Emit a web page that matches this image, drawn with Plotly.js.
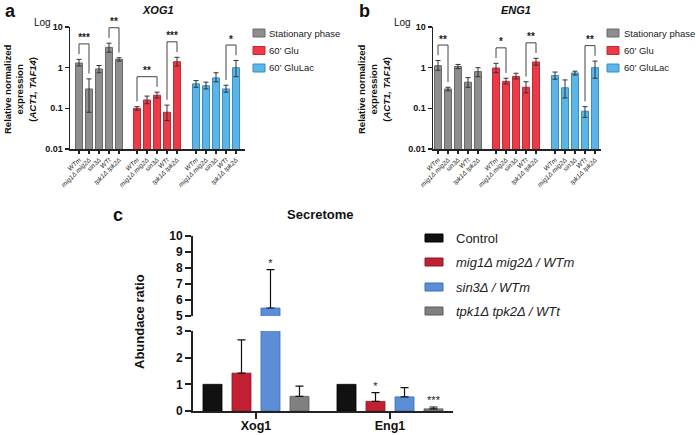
<!DOCTYPE html>
<html>
<head>
<meta charset="utf-8">
<script src="https://cdn.plot.ly/plotly-3.0.1.min.js"></script>
<style>html,body{margin:0;padding:0;background:#fff;}#chart{width:696px;height:435px;}</style>
</head>
<body>
<div id="chart"></div>
<script>
// ---------- data ----------
const genotypes = ['WTm', 'mig1Δ mig2Δ', 'sin3Δ', 'WTt', 'tpk1Δ tpk2Δ'];
const conditions = ['Stationary phase', '60’ Glu', '60’ GluLac'];

// XOG1 (panel a)
const xogStat    = [1.3, 0.3, 0.93, 3.15, 1.6];
const xogStatLo  = [1.1, 0.08, 0.75, 2.4, 1.45];
const xogStatHi  = [1.6, 0.53, 1.13, 4.0, 1.75];
const xogGlu     = [0.1, 0.16, 0.21, 0.08, 1.4];
const xogGluLo   = [0.09, 0.13, 0.18, 0.05, 1.1];
const xogGluHi   = [0.11, 0.2, 0.25, 0.12, 1.8];
const xogLac     = [0.4, 0.36, 0.56, 0.3, 1.0];
const xogLacLo   = [0.33, 0.3, 0.45, 0.25, 0.6];
const xogLacHi   = [0.48, 0.44, 0.75, 0.37, 1.5];
const xogSig = [[0, 0, 1, '***'], [0, 3, 4, '**'], [1, 0, 2, '**'], [1, 3, 4, '***'], [2, 3, 4, '*']];

// ENG1 (panel b)
const engStat    = [1.12, 0.3, 1.07, 0.44, 0.8];
const engStatLo  = [0.86, 0.27, 0.95, 0.33, 0.6];
const engStatHi  = [1.5, 0.33, 1.2, 0.57, 1.0];
const engGlu     = [0.98, 0.46, 0.61, 0.33, 1.38];
const engGluLo   = [0.75, 0.4, 0.53, 0.24, 1.15];
const engGluHi   = [1.28, 0.55, 0.73, 0.45, 1.7];
const engLac     = [0.64, 0.32, 0.74, 0.085, 1.0];
const engLacLo   = [0.52, 0.18, 0.66, 0.06, 0.55];
const engLacHi   = [0.78, 0.5, 0.82, 0.11, 1.45];
const engSig = [[0, 0, 1, '**'], [1, 0, 1, '*'], [1, 3, 4, '**'], [2, 3, 4, '**']];

// Secretome (panel c)
const secCats = ['Xog1', 'Eng1'];
const secSeries = ['Control', 'mig1Δ mig2Δ / WTm', 'sin3Δ / WTm', 'tpk1Δ tpk2Δ / WTt'];
const secControl = [1.0, 1.0];
const secMig     = [1.42, 0.36];
const secSin3    = [5.5, 0.53];
const secTpk     = [0.55, 0.08];
const secControlErr = [0, 0];
const secMigErr     = [1.25, 0.33];
const secSin3Err    = [2.4, 0.35];
const secTpkErr     = [0.38, 0.07];
const secControlSig = ['', ''];
const secMigSig     = ['', '*'];
const secSin3Sig    = ['*', ''];
const secTpkSig     = ['', '***'];

// ---------- styling ----------
const W = 696, H = 435;
const px = v => v / W;
const py = v => 1 - v / H;
const FONT = 'Liberation Sans, Arial, sans-serif';
const condFill = ['#8e8e8e', '#ec3b47', '#5bb5e6'];
const condLine = ['#6a6a6a', '#c02a35', '#3a8cc2'];
const secFill = ['#111111', '#c21f33', '#5b8ed6', '#808080'];
const secLine = ['#000000', '#8a1a26', '#3f6fb0', '#5a5a5a'];
const groupOffset = [0, 5.8, 11.7];

const traces = [];
const shapes = [];
const annotations = [];

function buildPanel(xa, ya, means, los, his, sig) {
  for (let c = 0; c < 3; c++) {
    const xs = genotypes.map((g, i) => groupOffset[c] + i);
    traces.push({
      type: 'bar', x: xs, y: means[c], xaxis: xa, yaxis: ya, width: 0.7,
      marker: {color: condFill[c], line: {color: condLine[c], width: 1}},
      error_y: {type: 'data', symmetric: false,
        array: means[c].map((m, i) => his[c][i] - m),
        arrayminus: means[c].map((m, i) => m - los[c][i]),
        color: '#333', thickness: 1, width: 2.5},
      showlegend: false, hoverinfo: 'skip'
    });
  }
  sig.forEach(([c, i, j, lab]) => {
    const hi = Math.max(his[c][i], his[c][j]);
    const top = hi * 2.4;
    const xi = groupOffset[c] + i, xj = groupOffset[c] + j;
    traces.push({
      type: 'scatter', mode: 'lines', xaxis: xa, yaxis: ya,
      x: [xi, xi, xj, xj], y: [his[c][i] * 1.35, top, top, his[c][j] * 1.35],
      line: {color: '#444', width: 1}, showlegend: false, hoverinfo: 'skip', cliponaxis: false
    });
    traces.push({
      type: 'scatter', mode: 'text', xaxis: xa, yaxis: ya,
      x: [(xi + xj) / 2], y: [top], text: [lab], textposition: 'top center',
      textfont: {size: 10, color: '#222', family: FONT, weight: 'bold'},
      showlegend: false, hoverinfo: 'skip', cliponaxis: false
    });
  });
}

buildPanel('x', 'y', [xogStat, xogGlu, xogLac], [xogStatLo, xogGluLo, xogLacLo], [xogStatHi, xogGluHi, xogLacHi], xogSig);
buildPanel('x2', 'y2', [engStat, engGlu, engLac], [engStatLo, engGluLo, engLacLo], [engStatHi, engGluHi, engLacHi], engSig);

// panel c
const secVals = [secControl, secMig, secSin3, secTpk];
const secErrs = [secControlErr, secMigErr, secSin3Err, secTpkErr];
const secSigs = [secControlSig, secMigSig, secSin3Sig, secTpkSig];
const slot = 0.2164, barW = 0.142;
secVals.forEach((vals, s) => {
  const xs = secCats.map((c, k) => k + (s - 1.5) * slot);
  ['y3', 'y4'].forEach(ya => {
    traces.push({
      type: 'bar', x: xs, y: vals, xaxis: 'x3', yaxis: ya, width: barW,
      marker: {color: secFill[s], line: {color: secLine[s], width: 0.8}},
      error_y: {type: 'data', symmetric: false, array: secErrs[s], arrayminus: secErrs[s].map(() => 0),
        color: '#111', thickness: 1.2, width: 4, visible: secErrs[s].some(e => e > 0)},
      showlegend: false, hoverinfo: 'skip'
    });
  });
  secSigs[s].forEach((lab, k) => {
    if (!lab) return;
    const top = vals[k] + secErrs[s][k];
    traces.push({
      type: 'scatter', mode: 'text', xaxis: 'x3', yaxis: top > 3 ? 'y4' : 'y3',
      x: [xs[k]], y: [top], text: [lab], textposition: 'top center',
      textfont: {size: 11, color: '#222', family: FONT},
      showlegend: false, hoverinfo: 'skip', cliponaxis: false
    });
  });
});

// ---------- legends (keys built from series names/colours) ----------
function legend(names, fills, lines, x0, sw, txtX, ys, size, italicFrom) {
  names.forEach((n, i) => {
    shapes.push({type: 'rect', xref: 'paper', yref: 'paper',
      x0: px(x0), x1: px(x0 + sw), y0: py(ys[i] + 4), y1: py(ys[i] - 4),
      fillcolor: fills[i], line: {color: lines[i], width: 1}});
    annotations.push({xref: 'paper', yref: 'paper', x: px(txtX), y: py(ys[i]),
      xanchor: 'left', yanchor: 'middle', showarrow: false,
      text: i >= italicFrom ? '<i>' + n + '</i>' : n,
      font: {size: size, color: '#222', family: FONT}});
  });
}
legend(conditions, condFill, condLine, 253, 12, 267, [33, 50.5, 68], 9.5, 99);
legend(conditions, condFill, condLine, 607, 12, 622, [33, 50.5, 68], 9.5, 99);
legend(secSeries, secFill, secLine, 425, 18, 454, [238, 262, 287, 311], 13, 1);

// ---------- text ----------
function ann(text, x, y, size, extra) {
  annotations.push(Object.assign({xref: 'paper', yref: 'paper', x: px(x), y: py(y),
    xanchor: 'center', yanchor: 'middle', showarrow: false, text: text,
    font: {size: size, color: '#111', family: FONT}}, extra || {}));
}
ann('<b>a</b>', 10, 11, 18);
ann('<b>b</b>', 364, 11, 18);
ann('<b>c</b>', 118, 215, 18);
ann('<b><i>XOG1</i></b>', 158, 10, 11);
ann('<b><i>ENG1</i></b>', 516, 10, 11);
ann('<b>Secretome</b>', 320, 215, 13);
ann('Log', 42, 22, 10);
ann('Log', 402, 22, 10);
ann('<b>Relative normalized<br>expression<br>(<i>ACT1, TAF14</i>)</b>', 20, 90, 9.5, {textangle: -90});
ann('<b>Relative normalized<br>expression<br>(<i>ACT1, TAF14</i>)</b>', 374, 90, 9.5, {textangle: -90});
ann('<b>Abundace ratio</b>', 139, 322, 13, {textangle: -90});

// ---------- axes ----------
const tickPos = [];
const tickTxt = [];
for (let c = 0; c < 3; c++) genotypes.forEach((g, i) => { tickPos.push(groupOffset[c] + i); tickTxt.push(g); });

const baseAx = {showline: true, linecolor: '#222', linewidth: 1.5, ticks: 'outside', tickcolor: '#222',
  tickwidth: 1.5, showgrid: false, zeroline: false, fixedrange: true};
const xCat = Object.assign({}, baseAx, {tickvals: tickPos, ticktext: tickTxt, tickangle: -45, ticklen: 3,
  tickfont: {size: 6.5, style: 'italic', color: '#222', family: FONT}});
const yLog = Object.assign({}, baseAx, {type: 'log', range: [-2, 1], tickvals: [0.01, 0.1, 1, 10],
  ticktext: ['0.01', '0.1', '1', '10'], ticklen: 4,
  tickfont: {size: 9, weight: 'bold', color: '#111', family: FONT}});

const layout = {
  width: W, height: H, margin: {l: 0, r: 0, t: 0, b: 0},
  paper_bgcolor: '#fff', plot_bgcolor: 'rgba(0,0,0,0)',
  font: {family: FONT, color: '#111'},
  barmode: 'overlay', showlegend: false, hovermode: false,
  xaxis: Object.assign({}, xCat, {domain: [px(70), px(245)], range: [-0.9, 16.6], anchor: 'y'}),
  yaxis: Object.assign({}, yLog, {domain: [py(149), py(27)], anchor: 'x'}),
  xaxis2: Object.assign({}, xCat, {domain: [px(433), px(601)], range: [-0.5, 16.3], anchor: 'y2'}),
  yaxis2: Object.assign({}, yLog, {domain: [py(149), py(27)], anchor: 'x2'}),
  xaxis3: Object.assign({}, baseAx, {domain: [px(193), px(453)], range: [-0.47, 1.47], anchor: 'y3',
    linewidth: 2, tickwidth: 2, ticklen: 6, tickvals: [0, 1], ticktext: secCats, ticklabelstandoff: -4,
    tickfont: {size: 12.5, weight: 'bold', color: '#111', family: FONT}}),
  yaxis3: Object.assign({}, baseAx, {domain: [py(411), py(331)], range: [0, 3], anchor: 'x3',
    linewidth: 2, tickwidth: 2, ticklen: 6, tickvals: [0, 1, 2, 3],
    tickfont: {size: 12, weight: 'bold', color: '#111', family: FONT}}),
  yaxis4: Object.assign({}, baseAx, {domain: [py(316), py(236)], range: [5, 10], anchor: 'x3',
    linewidth: 2, tickwidth: 2, ticklen: 6, tickvals: [5, 6, 7, 8, 9, 10],
    tickfont: {size: 12, weight: 'bold', color: '#111', family: FONT}}),
  shapes: shapes,
  annotations: annotations
};

Plotly.newPlot('chart', traces, layout, {staticPlot: true, displayModeBar: false});
</script>
</body>
</html>
